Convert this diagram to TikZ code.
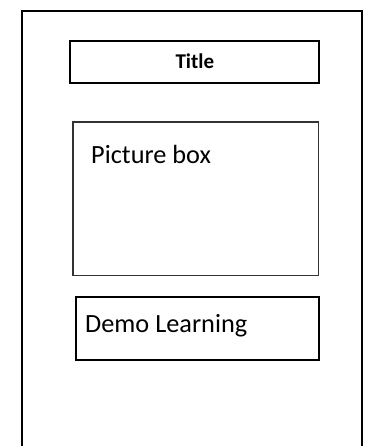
\documentclass[tikz,border=0pt]{standalone}
\usepackage{fontspec}
\setmainfont{Carlito}
\usepackage{tikz}

\begin{document}
\begin{tikzpicture}[x=1pt, y=-1pt]
    \useasboundingbox (0, 0) rectangle (367, 446);
    \tikzset{
        box/.style={draw, rectangle, inner sep=0pt, anchor=north west},
        boxtext/.style={inner sep=0pt, font=\fontsize{26.3}{30}\selectfont}
    }

    \coordinate (P1) at (22, 446);
    \coordinate (P2) at (22, 11);
    \coordinate (P3) at (362, 11);
    \coordinate (P4) at (362, 446);

    \draw[line width=2.5pt] (P1) -- (P2) -- (P3) -- (P4); % page

    \node[box, line width=2pt, minimum width=249pt, minimum height=42.5pt] (titlebox) at (69.3, 40) {}; % title
    \node[inner sep=0pt, anchor=base, font=\fontsize{21}{24}\selectfont\bfseries] (title) at (titlebox.center |- 0, 69) {Title};

    \node[box, line width=1.3pt, draw=black!80, minimum width=245.5pt, minimum height=153.5pt] (picbox) at (72.4, 121.3) {}; % picture
    \node[boxtext, anchor=base west] (pictext) at (91, 164) {Picture box};

    \node[box, line width=1.7pt, minimum width=243pt, minimum height=63pt] (demobox) at (75.3, 295.8) {}; % demo
    \node[boxtext, anchor=base west] (demotext) at (85, 332) {Demo Learning};
\end{tikzpicture}
\end{document}
